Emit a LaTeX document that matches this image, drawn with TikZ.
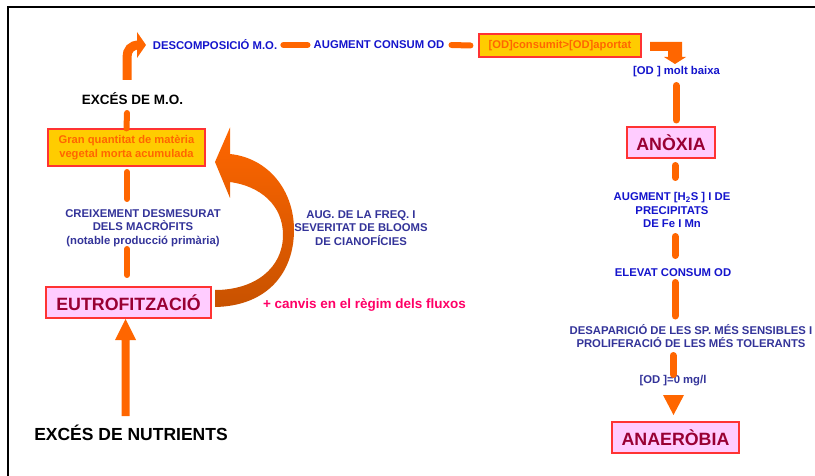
\documentclass[tikz,border=0pt]{standalone}
\usepackage{fontspec}
\setmainfont{Liberation Sans}
\definecolor{orA}{RGB}{255,102,0}
\definecolor{brA}{RGB}{200,82,0}
\definecolor{goldF}{RGB}{255,204,0}
\definecolor{pinkF}{RGB}{255,204,255}
\definecolor{boxR}{RGB}{255,51,51}
\definecolor{dRed}{RGB}{153,0,51}
\definecolor{bBlue}{RGB}{20,20,204}
\definecolor{sBlue}{RGB}{51,51,153}
\definecolor{pkText}{RGB}{255,0,102}
\tikzset{
  lbl/.style={inner sep=0pt, align=center, font=\fontsize{11.3}{13.5}\selectfont\bfseries},
  bl/.style={lbl, text=bBlue},
  sl/.style={lbl, text=sBlue},
  blk/.style={inner sep=0pt, align=center, text=black},
  tbox/.style={draw=boxR, line width=1.1pt, fill=pinkF, text=dRed, inner sep=0pt,
    font=\fontsize{17.8}{20}\selectfont\bfseries},
  gbox/.style={draw=boxR, line width=1.1pt, fill=goldF, text=orA, inner sep=0pt, align=center,
    font=\fontsize{11.2}{14}\selectfont\bfseries},
  dsh/.style={draw=orA, line width=7pt, line cap=round},
  dshl/.style={draw=orA, line width=6pt, line cap=round}
}
\begin{document}
\begin{tikzpicture}[x=1pt,y=-1pt]
\useasboundingbox (0,0) rectangle (815,476);
% frame
\draw[line width=1.8pt, line cap=rect] (8,476) -- (8,7) -- (815,7);

% ---------- top row ----------
\node[bl] (desc) at (215,45) {DESCOMPOSICIÓ M.O.};
\node[bl] (aug) at (379,45) {AUGMENT CONSUM OD};
\node[gbox, minimum width=162pt, minimum height=23pt] (odb) at (560,45.5) {[OD]consumit>[OD]aportat};
\draw[dshl] ([xshift=6pt]desc.east) -- ([xshift=-6pt]aug.west);
\draw[dshl] ([xshift=7pt]aug.east) -- ([xshift=-8pt]odb.west);
\fill[orA] (650,42) -- (682,42) -- (682,57) -- (686,57) -- (675,64) -- (664,57) -- (668,57) -- (668,51) -- (650,51) -- cycle;

% ---------- right column ----------
\node[bl] (molt) at (676.5,72) {[OD ] molt baixa};
\node[tbox, minimum width=88pt, minimum height=31pt] (anox) at (671,142.5) {ANÒXIA};
\node[bl] (h2s) at (672,210) {AUGMENT [H\textsubscript{2}S ] I DE\\PRECIPITATS\\DE Fe I Mn};
\node[bl] (elev) at (673,273) {ELEVAT CONSUM OD};
\node[sl] (desap) at (691,336) {DESAPARICIÓ DE LES SP. MÉS SENSIBLES I\\PROLIFERACIÓ DE LES MÉS TOLERANTS};
\node[sl] (od0) at (673,381) {[OD ]=0 mg/l};
\node[tbox, minimum width=127pt, minimum height=31pt] (anae) at (675.5,437.5) {ANAERÒBIA};

\draw[dsh] (676,85.5) -- (676,120);
\draw[dsh] (675,165.5) -- (675,177.5);
\draw[dsh] (675,236.5) -- (675,255.5);
\draw[dsh] (675,282.5) -- (675,316);
\draw[dsh] (673,355.5) -- (673,374.5);
\fill[orA] (663,395) -- (684,395) -- (673.5,415) -- cycle;

% ---------- left column ----------
\node[blk, font=\fontsize{13.5}{15}\selectfont\bfseries] (mo) at (132.5,99) {EXCÉS DE M.O.};
\node[gbox, minimum width=157pt, minimum height=37pt] (gran) at (126.5,147.5) {Gran quantitat de matèria\\vegetal morta acumulada};
\node[sl] (creix) at (143,228) {CREIXEMENT DESMESURAT\\DELS MACRÒFITS\\(notable producció primària)};
\node[tbox, minimum width=165pt, minimum height=31pt] (eutro) at (128.5,302.5) {EUTROFITZACIÓ};
\node[blk, font=\fontsize{17.5}{20}\selectfont\bfseries] (nutr) at (131,433) {EXCÉS DE NUTRIENTS};
\node[sl] (blooms) at (361,228) {AUG. DE LA FREQ. I\\SEVERITAT DE BLOOMS\\DE CIANOFÍCIES};
\node[inner sep=0pt, text=pkText, font=\fontsize{13.5}{15}\selectfont\bfseries] (canv) at (364.5,305) {+ canvis en el règim dels fluxos};

% bent arrow to DESCOMPOSICIO
\draw[orA, line width=9pt] (127,80) -- (127,57) .. controls (127,50) and (131,45) .. (139,45);
\fill[orA] (137,32) -- (146,45) -- (137,58) -- cycle;

\draw[dshl] (127,113) -- (gran.north);
\draw[dshl] (127,172) -- (127,199);
\draw[dshl] (127,249) -- (127,275);

% big straight arrow up
\fill[orA] (121.5,416) -- (129.5,416) -- (129.5,340) -- (136,340) -- (125.5,319) -- (115,340) -- (121.5,340) -- cycle;

% big curved arrow
\shade[top color=orA, middle color=orA, bottom color=brA]
  (230,127.5) -- (215,162) -- (230,198) -- (230,182)
  .. controls (260,186) and (283,205) .. (283,235)
  .. controls (283,268) and (255,290) .. (215,290)
  -- (215,307)
  .. controls (268,306) and (294,272) .. (294,230)
  .. controls (294,190) and (268,158) .. (230,154) -- cycle;
\end{tikzpicture}
\end{document}
